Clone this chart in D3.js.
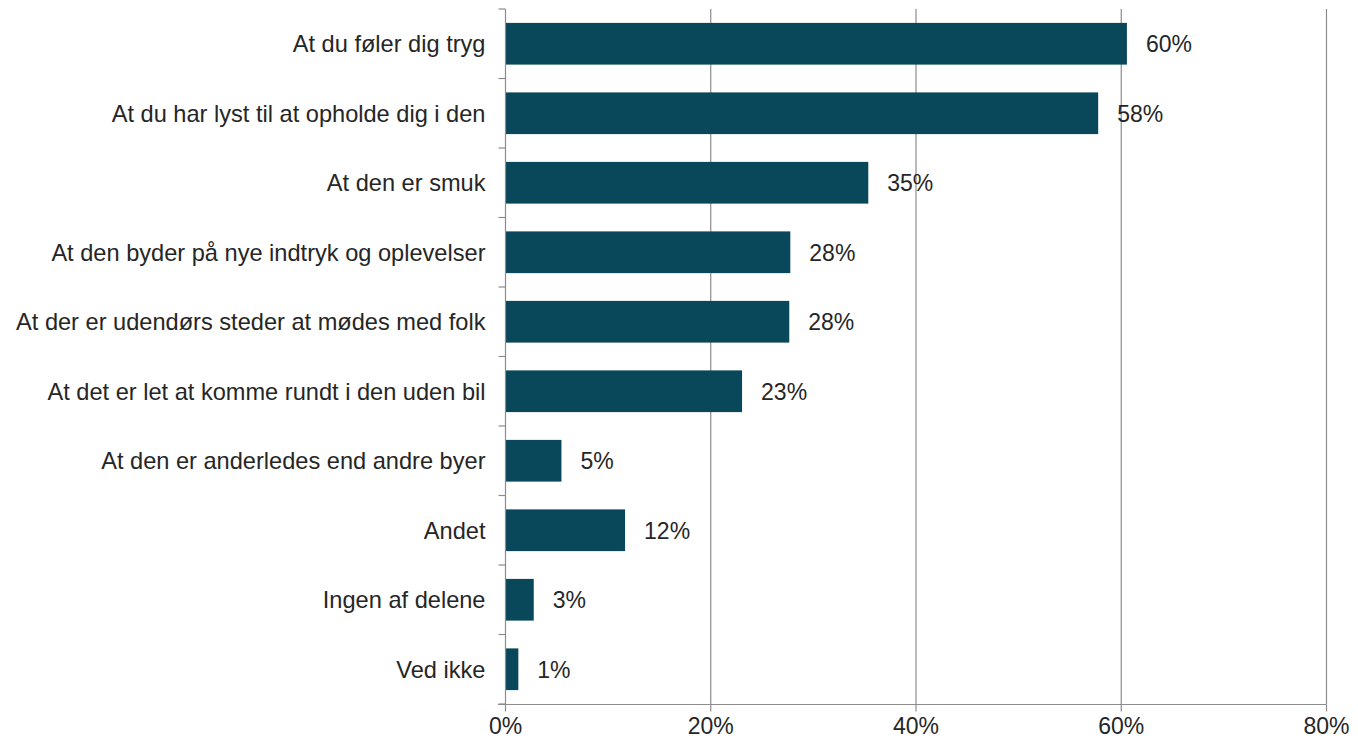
<!DOCTYPE html>
<html>
<head>
<meta charset="utf-8">
<script src="https://cdn.jsdelivr.net/npm/d3@7"></script>
<style>
  body { margin: 0; background: #fff; }
  svg { display: block; font-family: "Liberation Sans", Arial, sans-serif; }
</style>
</head>
<body>
<div id="chart"></div>
<script>
// data
const categories = [
  'At du føler dig tryg',
  'At du har lyst til at opholde dig i den',
  'At den er smuk',
  'At den byder på nye indtryk og oplevelser',
  'At der er udendørs steder at mødes med folk',
  'At det er let at komme rundt i den uden bil',
  'At den er anderledes end andre byer',
  'Andet',
  'Ingen af delene',
  'Ved ikke'
];
const values = [60.6, 57.8, 35.4, 27.8, 27.7, 23.1, 5.5, 11.7, 2.8, 1.3];
const valueLabels = ['60%', '58%', '35%', '28%', '28%', '23%', '5%', '12%', '3%', '1%'];
const xTicks = [0, 20, 40, 60, 80];

const width = 1358, height = 741;
const plotLeft = 505, plotRight = 1326, plotTop = 9, plotBottom = 704;
const font_size = 23;
const label_size = 23.6;

let svg = d3.select('#chart')
    .append('svg')
    .attr('width', width)
    .attr('height', height);

let x = d3.scaleLinear().domain([0, 80]).range([plotLeft, plotRight]);
let y = d3.scaleBand().domain(categories).range([plotTop, plotBottom])
    .paddingInner(0.4).paddingOuter(0.2);

// gridlines
svg.append('g')
    .selectAll('line')
    .data(xTicks.slice(1))
    .join('line')
    .attr('x1', d => x(d) + 0.5)
    .attr('x2', d => x(d) + 0.5)
    .attr('y1', plotTop)
    .attr('y2', plotBottom)
    .attr('stroke', '#8c8c8c')
    .attr('stroke-width', 1.2);

// bars
svg.append('g')
    .selectAll('rect')
    .data(values)
    .join('rect')
    .attr('x', x(0))
    .attr('y', (d, i) => y(categories[i]))
    .attr('width', d => x(d) - x(0))
    .attr('height', y.bandwidth())
    .attr('fill', '#09475a');

// value labels
svg.append('g')
    .selectAll('text')
    .data(values)
    .join('text')
    .attr('x', d => x(d) + 19)
    .attr('y', (d, i) => y(categories[i]) + y.bandwidth() / 2)
    .attr('dy', '0.36em')
    .attr('font-size', font_size + 'px')
    .attr('fill', '#262626')
    .text((d, i) => valueLabels[i]);

// y axis
let yAxis = svg.append('g')
    .attr('transform', 'translate(' + (plotLeft + 0.5) + ',0)');
yAxis.append('line')
    .attr('y1', plotTop).attr('y2', plotBottom)
    .attr('stroke', '#8c8c8c').attr('stroke-width', 1.2);
yAxis.selectAll('.tick')
    .data(d3.range(categories.length + 1))
    .join('line')
    .attr('class', 'tick')
    .attr('x1', -7).attr('x2', 0)
    .attr('y1', i => plotTop + i * y.step())
    .attr('y2', i => plotTop + i * y.step())
    .attr('stroke', '#8c8c8c').attr('stroke-width', 1.2);
yAxis.selectAll('text')
    .data(categories)
    .join('text')
    .attr('x', -20)
    .attr('y', d => y(d) + y.bandwidth() / 2)
    .attr('dy', '0.36em')
    .attr('text-anchor', 'end')
    .attr('font-size', label_size + 'px')
    .attr('fill', '#262626')
    .text(d => d);

// x axis
let xAxis = d3.axisBottom(x)
    .tickValues(xTicks)
    .tickFormat(d => d + '%')
    .tickSize(7)
    .tickSizeOuter(0);

let gx = svg.append('g')
    .attr('transform', 'translate(0,' + (plotBottom + 0.5) + ')')
    .call(xAxis);
gx.select('.domain')
    .attr('d', 'M' + (plotLeft - 7) + ',0H' + (plotRight + 0.5))
    .attr('stroke', '#8c8c8c').attr('stroke-width', 1.2);
gx.selectAll('.tick line').attr('stroke', '#8c8c8c').attr('stroke-width', 1.2);
gx.selectAll('.tick text')
    .attr('y', 13)
    .attr('font-size', font_size + 'px')
    .attr('font-family', '"Liberation Sans", Arial, sans-serif')
    .attr('fill', '#262626');
</script>
</body>
</html>
